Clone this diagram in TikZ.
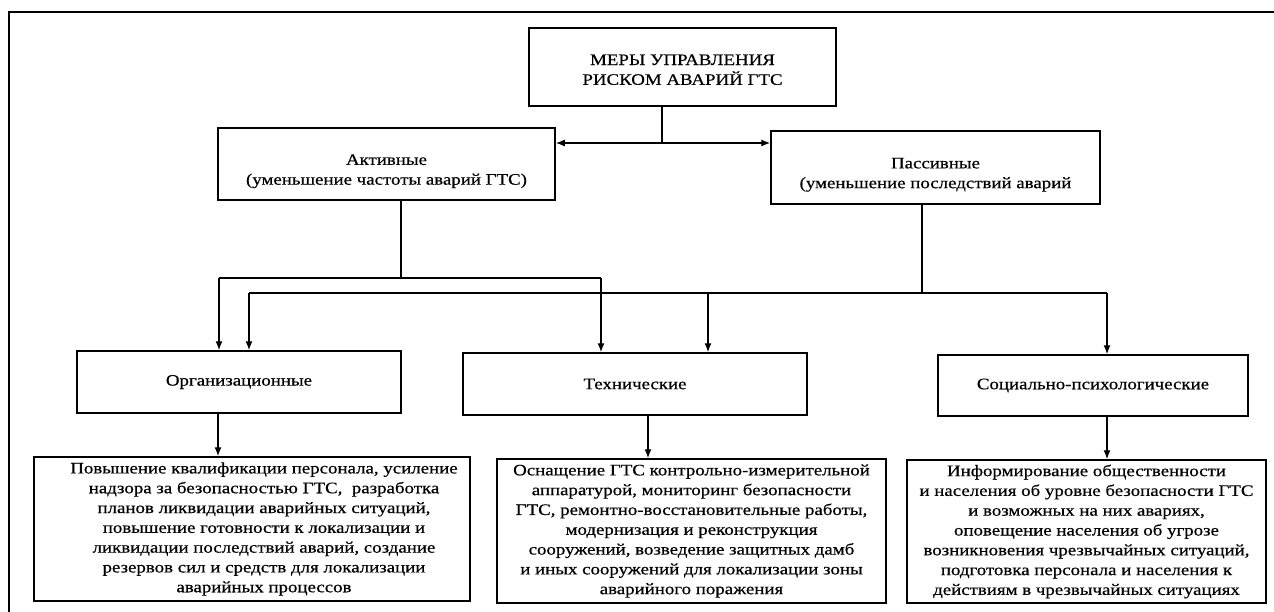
\documentclass[tikz,border=0pt]{standalone}
\usepackage{fontspec}
\setmainfont{Liberation Serif}[FakeStretch=1.18,FakeBold=0.5]
\usepackage{tikz}
\usetikzlibrary{calc,positioning,arrows.meta}

\newcommand{\lowr}{\rule{0pt}{25pt}}
\tikzset{
  box/.style={draw,line width=1.5pt,align=center,inner sep=0pt,
    font=\fontsize{16}{19.8}\selectfont},
  link/.style={line width=1.3pt},
  arr/.style={line width=1.3pt,->}
}

\begin{document}
\begin{tikzpicture}[>={Latex[length=9pt,width=7pt]},x=1pt,y=-1pt]
\useasboundingbox (0,0) rectangle (1274,612);
\draw [line width=2.5pt](1274,12)--(9,12)--(9,612);

\node (mery) at (682.5,67)[box,minimum width=307pt,minimum height=78pt]
  {\rule{0pt}{16pt}МЕРЫ УПРАВЛЕНИЯ\\РИСКОМ АВАРИЙ ГТС};
\node (akt) at (386.5,164)[box,minimum width=337pt,minimum height=72pt]
  {\lowr Активные\\(уменьшение частоты аварий ГТС)};
\node (pas) at (935.5,167.5)[box,minimum width=329pt,minimum height=73pt]
  {\lowr Пассивные\\(уменьшение последствий аварий};

\node (org) at (239,382)[box,minimum width=324pt,minimum height=62pt]{Организационные};
\node (tekh) at (635,384)[box,minimum width=344pt,minimum height=62pt]{Технические};
\node (soc) at (1093,385.5)[box,minimum width=310pt,minimum height=61pt]{Социально-психологические};

\node (orgtxt) at (252,529)[box,minimum width=436pt,minimum height=144pt]
  {\hspace*{24pt}Повышение квалификации персонала, усиление\\
   \hspace*{24pt}надзора за безопасностью ГТС,\ \ разработка\\
   \hspace*{24pt}планов ликвидации аварийных ситуаций,\\
   \hspace*{24pt}повышение готовности к локализации и\\
   \hspace*{24pt}ликвидации последствий аварий, создание\\
   \hspace*{24pt}резервов сил и средств для локализации\\
   \hspace*{24pt}аварийных процессов};
\node (tekhtxt) at (691.5,531)[box,minimum width=389pt,minimum height=144pt]
  {Оснащение ГТС контрольно-измерительной\\
   аппаратурой, мониторинг безопасности\\
   ГТС, ремонтно-восстановительные работы,\\
   модернизация и реконструкция\\
   сооружений, возведение защитных дамб\\
   и иных сооружений для локализации зоны\\
   аварийного поражения};
\node (soctxt) at (1086.5,531.5)[box,minimum width=359pt,minimum height=143pt]
  {Информирование общественности\\
   и населения об уровне безопасности ГТС\\
   и возможных на них авариях,\\
   оповещение населения об угрозе\\
   возникновения чрезвычайных ситуаций,\\
   подготовка персонала и населения к\\
   действиям в чрезвычайных ситуациях};

\coordinate (m0) at (662,143);
\draw [link](mery.south -| m0)--(m0);
\draw [link,<->](m0 -| akt.east)--(m0 -| pas.west);

\coordinate (a0) at (401,278);
\coordinate (a1) at (219,278);
\coordinate (a2) at (601,278);
\draw [link](akt.south -| a0)--(a0);
\draw [link](a1)--(a2);
\draw [arr](a1)--(a1 |- org.north);
\draw [arr](a2)--(a2 |- tekh.north);

\coordinate (p0) at (922,293);
\coordinate (p1) at (249,293);
\coordinate (p2) at (708,293);
\coordinate (p3) at (1107,293);
\draw [link](pas.south -| p0)--(p0);
\draw [link](p1)--(p3);
\draw [arr](p1)--(p1 |- org.north);
\draw [arr](p2)--(p2 |- tekh.north);
\draw [arr](p3)--(p3 |- soc.north);

\draw [arr](org.south -| 218,0)--(orgtxt.north -| 218,0);
\draw [arr](tekh.south -| 648,0)--(tekhtxt.north -| 648,0);
\draw [arr](soc.south -| 1107,0)--(soctxt.north -| 1107,0);
\end{tikzpicture}
\end{document}
